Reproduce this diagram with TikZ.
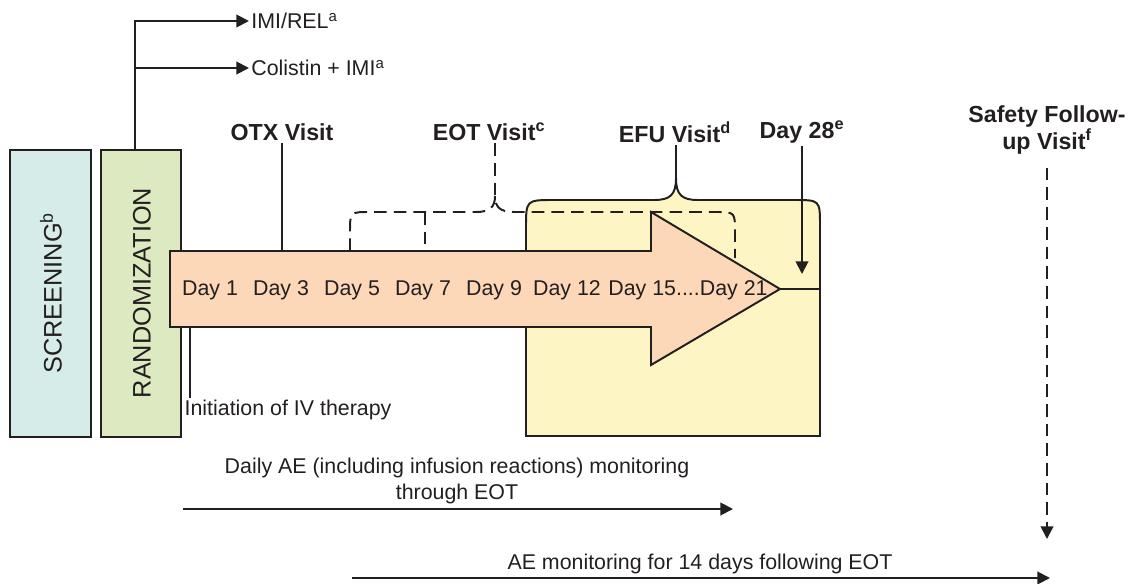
\documentclass[tikz,border=0pt]{standalone}
\usepackage{fontspec}
\setmainfont{Liberation Sans}
\usetikzlibrary{arrows.meta}
\definecolor{ink}{HTML}{231F20}
\definecolor{scrfill}{HTML}{D6ECE8}
\definecolor{randfill}{HTML}{DDE9C0}
\definecolor{efufill}{HTML}{FDF6C4}
\definecolor{ivfill}{HTML}{FCD8B8}
\tikzset{
    lbl/.style={text=ink, font=\fontsize{15.2}{18.5}\selectfont, inner sep=1pt},
    phase/.style={lbl, font=\fontsize{18}{22}\selectfont, rotate=90},
    visit/.style={lbl, font=\fontsize{16.5}{19}\selectfont\bfseries},
    dashdash/.style={dash pattern=on 9pt off 5pt},
    tip/.style={-{Triangle[length=9pt,width=9pt]}},
}

\begin{document}
\begin{tikzpicture}[x=0.025cm, y=-0.025cm, line width=1.4pt, color=ink]
    \useasboundingbox (0,0) rectangle (1130,584);
    \coordinate (bodytop) at (0,251);
    \coordinate (bodybot) at (0,327);

    % screening and randomization
    \draw[fill=scrfill] (10,150) rectangle (91,437);
    \node[phase] (scr) at (51,293) {SCREENING\textsuperscript{b}};
    \draw[fill=randfill] (101,150) rectangle (181,437);
    \node[phase] (rand) at (142,293) {RANDOMIZATION};

    \node[lbl, anchor=west] (imi) at (249,21) {IMI/REL\textsuperscript{a}};
    \node[lbl, anchor=west] (col) at (249,68) {Colistin + IMI\textsuperscript{a}};
    \coordinate (split) at (135,150);
    \draw[tip] (split) |- (imi.west);
    \draw[tip] (split |- col.west) -- (col.west);

    % EFU window
    \draw[fill=efufill] (526,436) -- (526,228) .. controls (526,200) .. (554,200) -- (654,200)
        .. controls (670,200) and (676,195) .. (676,178) .. controls (676,195) and (682,200) .. (698,200)
        -- (794,200) .. controls (820,200) .. (820,226) -- (820,436) -- cycle;

    % EOT window
    \draw[dashdash] (350,251) -- (350,232) .. controls (350,212) .. (370,212) -- (476,212)
        .. controls (490,212) and (495,207) .. (495,196) .. controls (495,207) and (500,212) .. (514,212)
        -- (715,212) .. controls (735,212) .. (735,232) -- (735,258);
    \draw[dashdash] (425,212) -- (425,251);

    % IV therapy
    \draw[fill=ivfill] (170,251) -- (651,251) -- (651,212) -- (780,289) -- (651,365) -- (651,327)
        -- (170,327) -- cycle;
    \coordinate (ivtip) at (780,289);
    \draw (ivtip) -- (820,289);
    \foreach \d/\x in {1/210,3/281,5/352,7/423,9/494,12/567}
        \node[lbl] (day\d) at (\x,290) {Day \d};
    \node[lbl] (day21) at (688,290) {Day 15....Day 21};

    % visits
    \node[visit] (otx) at (282,132) {OTX Visit};
    \draw (otx.south) -- (otx.south |- bodytop);
    \node[visit] (eot) at (489,132) {EOT Visit\textsuperscript{c}};
    \coordinate (eotb) at (495,196);
    \draw[dashdash] (eotb |- eot.south) -- (eotb);
    \node[visit] (efu) at (675,132) {EFU Visit\textsuperscript{d}};
    \coordinate (efub) at (676,178);
    \draw (efub |- efu.south) -- (efub);
    \node[visit] (d28) at (802,132) {Day 28\textsuperscript{e}};
    \coordinate (d28b) at (802,274);
    \draw[tip] (d28b |- d28.south) -- (d28b);
    \node[visit, align=center] (sfu) at (1047,130) {Safety Follow-\\up Visit\textsuperscript{f}};
    \coordinate (sfub) at (1047,539);
    \draw[tip, dashdash, shorten <=8pt] (sfub |- sfu.south) -- (sfub);

    \node[lbl] (init) at (288,410) {Initiation of IV therapy};
    \coordinate (ivstart) at (190,327);
    \draw (ivstart) -- (ivstart |- init.north);

    % AE monitoring
    \node[lbl, align=center] (daily) at (457,481) {Daily AE (including infusion reactions) monitoring\\through EOT};
    \coordinate (dailyA) at (183,509);
    \coordinate (dailyB) at (733,509);
    \draw[tip] (dailyA) -- (dailyB);
    \node[lbl] (aefu) at (700,564) {AE monitoring for 14 days following EOT};
    \coordinate (aefuA) at (352,578);
    \coordinate (aefuB) at (1050,578);
    \draw[tip] (aefuA) -- (aefuB);
\end{tikzpicture}
\end{document}
